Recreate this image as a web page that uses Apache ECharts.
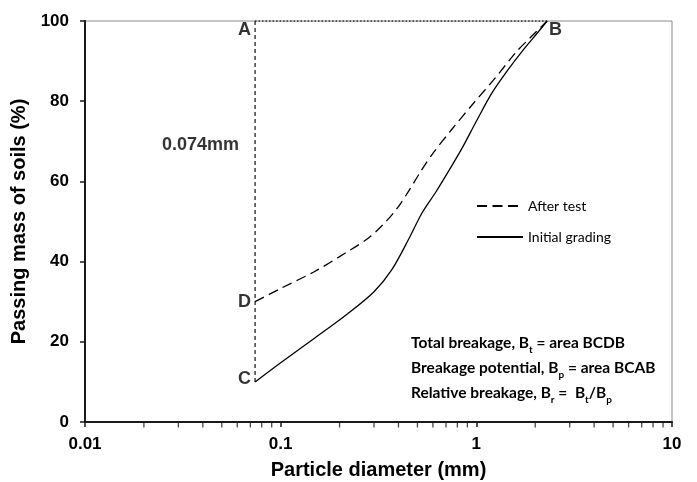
<!DOCTYPE html>
<html>
<head>
<meta charset="utf-8">
<style>
  html, body { margin: 0; padding: 0; background: #fff; }
  #chart { width: 697px; height: 482px; }
</style>
<script src="https://cdn.jsdelivr.net/npm/echarts@6/dist/echarts.min.js"></script>
</head>
<body>
<div id="chart"></div>
<script>
// Grain-size distribution curves: [particle diameter (mm), passing mass (%)]
const initialGrading = [
  [0.074, 10], [0.1, 14.8], [0.15, 21], [0.22, 27], [0.3, 32.5], [0.37, 38],
  [0.45, 45.5], [0.53, 52.3], [0.62, 57.3], [0.72, 62.5], [0.85, 68.5],
  [1.0, 75], [1.2, 82], [1.45, 87.8], [1.75, 93], [2.05, 97], [2.3, 100]
];
const afterTest = [
  [0.074, 30], [0.1, 33.3], [0.15, 37.6], [0.22, 42.5], [0.28, 45.8], [0.33, 49],
  [0.39, 53], [0.45, 57.5], [0.52, 62.5], [0.6, 67], [0.75, 73], [0.96, 79.3],
  [1.25, 85.8], [1.6, 92.3], [1.9, 96], [2.3, 100]
];

// Reference lines: 0.074 mm sieve and the 100 % passing line
const sieveSize = 0.074;
const maxSize = 2.3;
const sieveLine = [[sieveSize, 10], [sieveSize, 100]];
const fullPassLine = [[sieveSize, 100], [maxSize, 100]];

// Labelled corner points of the breakage areas
const cornerPoints = [
  { name: 'A', value: [sieveSize, 100] },
  { name: 'B', value: [maxSize, 100] },
  { name: 'C', value: [sieveSize, 10] },
  { name: 'D', value: [sieveSize, 30] }
];

// Axis ticks
const xTickLabels = { 0.01: '0.01', 0.1: '0.1', 1: '1', 10: '10' };
const xMinorTicks = [0.02, 0.03, 0.04, 0.05, 0.06, 0.07, 0.08, 0.09,
  0.2, 0.3, 0.4, 0.5, 0.6, 0.7, 0.8, 0.9, 2, 3, 4, 5, 6, 7, 8, 9];
const yTicks = { min: 0, max: 100, step: 20 };

const arial = '"Liberation Sans", Arial, sans-serif';
const calibri = 'Lato, "Open Sans", sans-serif';
const axisColor = '#1a1a1a';

const chart = echarts.init(document.getElementById('chart'), null, { renderer: 'canvas' });

const labelPos = {
  A: { position: 'left', offset: [0, 9] },
  B: { position: 'right', offset: [-2, 9] },
  C: { position: 'left', offset: [0, -3] },
  D: { position: 'left', offset: [0, 0] }
};

chart.setOption({
  animation: false,
  backgroundColor: '#fff',
  grid: {
    left: 85, right: 25, top: 21, bottom: 60,
    containLabel: false, outerBoundsMode: 'none',
    show: true, borderColor: '#8a8a8a', borderWidth: 1
  },
  legend: {
    data: ['After test', 'Initial grading'],
    orient: 'vertical',
    left: 476, top: 199,
    padding: 0,
    itemWidth: 46, itemHeight: 14, itemGap: 17,
    itemStyle: { opacity: 0 },
    textStyle: { fontFamily: calibri, fontSize: 14, color: '#000' }
  },
  xAxis: {
    type: 'log', logBase: 10, min: 0.01, max: 10,
    axisLine: { show: true, lineStyle: { color: axisColor, width: 2 } },
    axisTick: { show: true, inside: false, length: 5, lineStyle: { color: axisColor, width: 1.5 } },
    axisLabel: {
      margin: 14, color: '#000', fontFamily: arial, fontSize: 17, fontWeight: 'bold',
      formatter: v => xTickLabels[+v.toPrecision(6)] || ''
    },
    splitLine: { show: false },
    name: 'Particle diameter (mm)', nameLocation: 'middle', nameGap: 38,
    nameTextStyle: { color: '#000', fontFamily: arial, fontSize: 20, fontWeight: 'bold' }
  },
  yAxis: {
    type: 'value', min: yTicks.min, max: yTicks.max, interval: yTicks.step,
    axisLine: { show: true, lineStyle: { color: axisColor, width: 2 } },
    axisTick: { show: true, inside: false, length: 5, lineStyle: { color: axisColor, width: 1.5 } },
    axisLabel: { margin: 16, color: '#000', fontFamily: arial, fontSize: 17, fontWeight: 'bold' },
    splitLine: { show: false },
    name: 'Passing mass of soils (%)', nameLocation: 'middle', nameGap: 52,
    nameTextStyle: { color: '#000', fontFamily: arial, fontSize: 20, fontWeight: 'bold' }
  },
  series: [
    {
      name: 'Minor ticks', type: 'scatter', data: xMinorTicks.map(v => [v, 0]),
      symbol: 'rect', symbolSize: [1.3, 5], symbolOffset: [0, 3],
      itemStyle: { color: axisColor }, silent: true, clip: false, z: 1
    },
    {
      name: 'Full pass', type: 'line', data: fullPassLine, symbol: 'none',
      lineStyle: { color: '#222', width: 1.5, type: [1.5, 2] }, silent: true, z: 3
    },
    {
      name: 'Sieve', type: 'line', data: sieveLine, symbol: 'none',
      lineStyle: { color: '#222', width: 1.3, type: [4, 3] }, silent: true, z: 3
    },
    {
      name: 'After test', type: 'line', data: afterTest, symbol: 'none', smooth: 0.3,
      itemStyle: { color: '#000' },
      lineStyle: { color: '#000', width: 1.3, type: [10, 5.5] }, z: 4
    },
    {
      name: 'Initial grading', type: 'line', data: initialGrading, symbol: 'none', smooth: 0.3,
      itemStyle: { color: '#000' },
      lineStyle: { color: '#000', width: 1.3, type: 'solid' }, z: 4
    },
    {
      name: 'Corners', type: 'scatter', symbolSize: 0, silent: true, z: 5,
      data: cornerPoints.map(p => ({
        name: p.name, value: p.value,
        label: {
          show: true, formatter: p.name, distance: 4,
          position: labelPos[p.name].position, offset: labelPos[p.name].offset,
          fontFamily: arial, fontSize: 18, fontWeight: 'bold', color: '#000'
        }
      }))
    },
    {
      name: 'Sieve label', type: 'scatter', symbolSize: 0, silent: true, z: 5,
      data: [{
        value: [sieveSize, 69],
        label: {
          show: true, formatter: '0.074mm', position: 'left', distance: 16,
          fontFamily: arial, fontSize: 18, fontWeight: 'bold', color: '#000'
        }
      }]
    }
  ],
  graphic: [{
    type: 'text', left: 411, top: 330, z: 10,
    style: {
      text: 'Total breakage, B{s|t} = area BCDB\nBreakage potential, B{s|p} = area BCAB\nRelative breakage, B{s|r} =  B{s|t}/B{s|p}',
      font: 'bold 15.5px Lato, "Open Sans", sans-serif',
      fill: '#000', lineHeight: 25,
      rich: {
        s: { fontFamily: calibri, fontWeight: 'bold', fontSize: 10, verticalAlign: 'bottom', padding: [6, 0, 0, 0], lineHeight: 25 }
      }
    }
  }]
});
</script>
</body>
</html>
